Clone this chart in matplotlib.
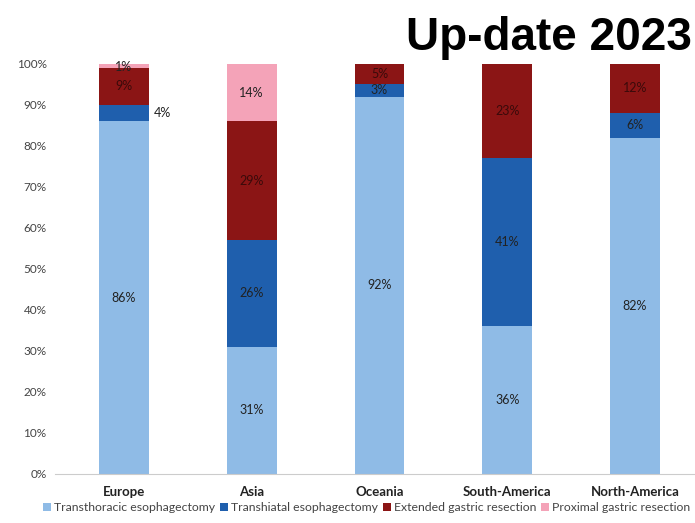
import numpy as np
import matplotlib.pyplot as plt

regions = ["Europe", "Asia", "Oceania", "South-America", "North-America"]
transthoracic = [86, 31, 92, 36, 82]
transhiatal = [4, 26, 3, 41, 6]
extended = [9, 29, 5, 23, 12]
proximal = [1, 14, 0, 0, 0]
series_names = ["Transthoracic esophagectomy", "Transhiatal esophagectomy",
                "Extended gastric resection", "Proximal gastric resection"]
colors = ["#8fbbe6", "#1f5fad", "#8b1515", "#f4a3b8"]

plt.rcParams['font.family'] = ['Lato', 'DejaVu Sans']

fig = plt.figure(figsize=(6.95, 5.23), dpi=100)
ax = fig.add_axes([0.079, 0.094, 0.921, 0.784])

x = np.arange(len(regions))
w = 0.39
bottom = np.zeros(len(regions))
data = [transthoracic, transhiatal, extended, proximal]
for vals, col, name in zip(data, colors, series_names):
    vals = np.array(vals, dtype=float)
    ax.bar(x, vals, w, bottom=bottom, color=col, label=name)
    for i, v in enumerate(vals):
        if v <= 0:
            continue
        tc = "#222222" if col != colors[2] else "#3a0a0a"
        cy = bottom[i] + v / 2
        cx = x[i]
        ha = "center"
        if regions[i] == "Europe" and v == 4:
            cx = x[i] + w / 2 + 0.04
            ha = "left"
        if v == 1:
            cy = bottom[i] + 0.3
        ax.text(cx, cy, f"{int(v)}%", ha=ha, va="center", fontsize=9, color=tc)
    bottom += vals

ax.set_ylim(0, 100)
ax.set_xlim(-0.54, 4.47)
ax.set_yticks(np.arange(0, 101, 10))
ax.set_yticklabels([f"{t}%" for t in range(0, 101, 10)], fontsize=8.5, color="#444444")
ax.set_xticks(x)
ax.set_xticklabels(regions, fontsize=9.5, fontweight="bold", color="#222222")
ax.tick_params(axis="both", length=0)
ax.tick_params(axis="y", pad=6)
ax.tick_params(axis="x", pad=9)
for s in ["top", "right", "left"]:
    ax.spines[s].set_visible(False)
ax.spines["bottom"].set_color("#cccccc")

ax.legend(loc="center", bbox_to_anchor=(0.528, 0.029), bbox_transform=fig.transFigure,
          ncol=4, frameon=False,
          fontsize=8.8, handlelength=0.6, handleheight=0.6, handletextpad=0.3,
          columnspacing=0.4, labelcolor="#444444", borderaxespad=0, borderpad=0)

fig.text(0.995, 0.97, "Up-date 2023", ha="right", va="top", fontsize=33,
         fontweight="bold", family="Liberation Sans")

fig.savefig("out.png", dpi=100)
